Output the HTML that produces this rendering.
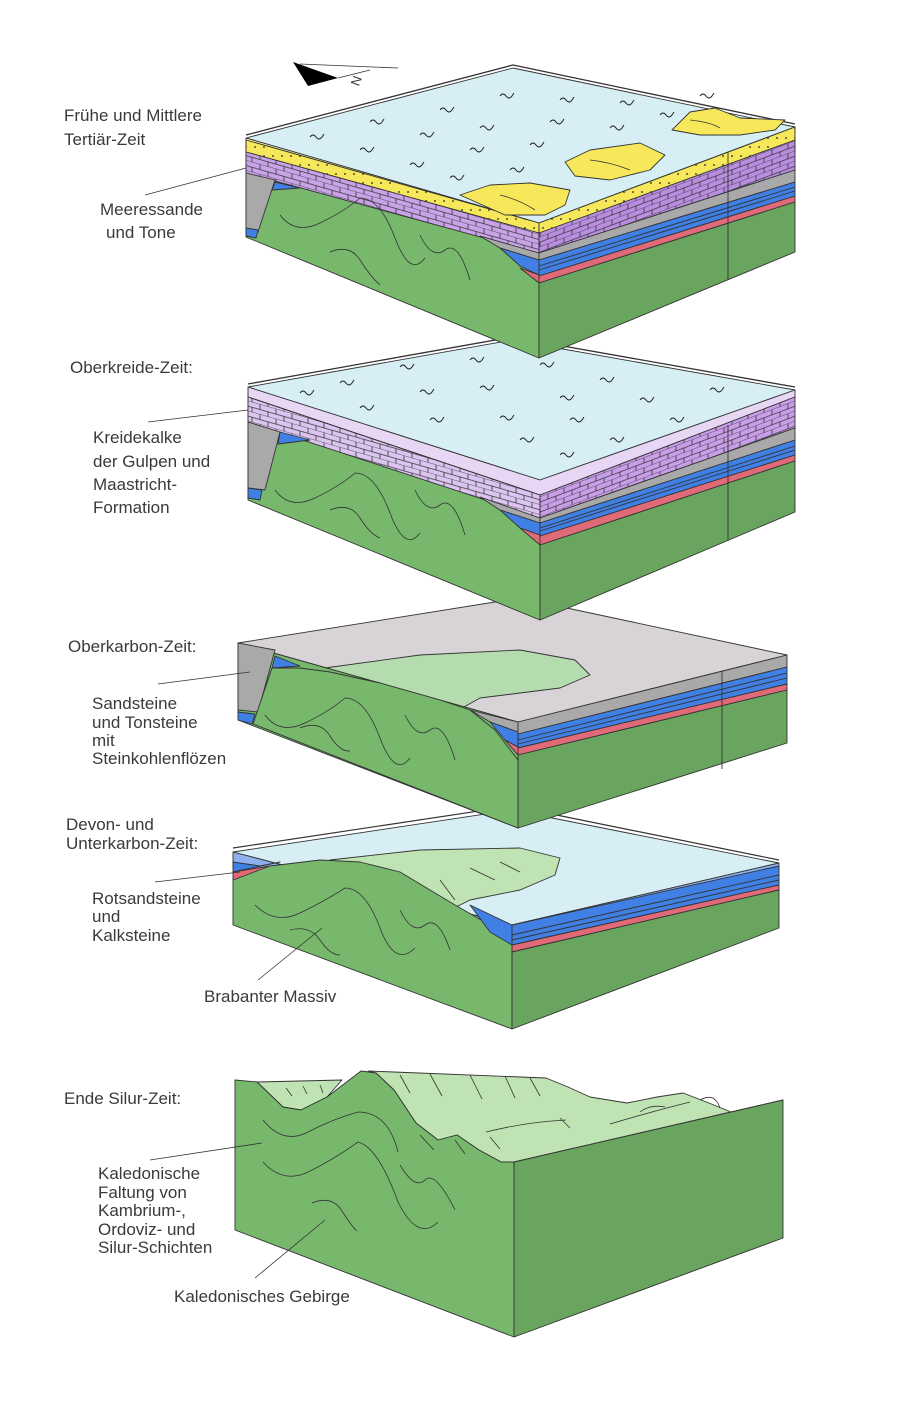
<!DOCTYPE html>
<html><head><meta charset="utf-8"><style>
html,body{margin:0;padding:0;background:#fff;}
svg{display:block}
text{font-family:"Liberation Sans",sans-serif;font-size:17px;fill:#3a3a3a;}
</style></head><body>
<svg width="900" height="1410" viewBox="0 0 900 1410" xmlns="http://www.w3.org/2000/svg">
<defs>
<pattern id="brL" width="16" height="10" patternUnits="userSpaceOnUse" patternTransform="skewY(16)">
<rect width="16" height="10" fill="#c9a3e8"/><path d="M0 5H16M0 10H16M4 0V5M12 5V10" stroke="#333" stroke-width="0.8" fill="none"/></pattern>
<pattern id="brR" width="16" height="10" patternUnits="userSpaceOnUse" patternTransform="skewY(-20.6)">
<rect width="16" height="10" fill="#b98ee0"/><path d="M0 5H16M0 10H16M4 0V5M12 5V10" stroke="#333" stroke-width="0.8" fill="none"/></pattern>
<pattern id="brL2" width="16" height="10" patternUnits="userSpaceOnUse" patternTransform="skewY(16)">
<rect width="16" height="10" fill="#dcc4f0"/><path d="M0 5H16M0 10H16M4 0V5M12 5V10" stroke="#333" stroke-width="0.8" fill="none"/></pattern>
<pattern id="brR2" width="16" height="10" patternUnits="userSpaceOnUse" patternTransform="skewY(-20.6)">
<rect width="16" height="10" fill="#c99ee8"/><path d="M0 5H16M0 10H16M4 0V5M12 5V10" stroke="#333" stroke-width="0.8" fill="none"/></pattern>
<pattern id="dots" width="9" height="9" patternUnits="userSpaceOnUse">
<rect width="9" height="9" fill="#f6e85a"/><circle cx="3" cy="3" r="0.9" fill="#222"/></pattern>
<g id="wv"><path d="M0 0q3 -4 6 0t6 0l2 -3" stroke="#222" stroke-width="1" fill="none"/></g>
</defs>
<g stroke="#333" stroke-width="0.9" stroke-linejoin="round">

<!-- ===== Block 5: Silur ===== -->
<polygon fill="#bfe3b2" points="368,1071 546,1078 568,1087 590,1097 627,1103 657,1097 683,1093 709,1103 731,1112 783,1100 514,1162 501,1162 479,1150 457,1135 438,1140 416,1123 394,1090 376,1073"/>
<polygon fill="#bfe3b2" points="257,1082 342,1080 327,1097 301,1110 283,1107"/>
<polygon fill="#77b86d" points="235,1080 257,1082 283,1107 301,1110 327,1097 361,1071 376,1073 394,1090 416,1123 438,1140 457,1135 479,1150 501,1162 514,1162 514,1337 235,1230"/>
<polygon fill="#69a55f" points="514,1162 783,1100 783,1238 514,1337"/>
<g fill="none" stroke-width="0.8">
<path d="M263,1120 q20,25 45,12 t50,-20 q30,0 40,40"/>
<path d="M263,1162 q20,22 45,10 t50,-30 q20,5 40,60 q20,40 40,20"/>
<path d="M312,1203 q20,-8 30,8 t15,20"/>
<path d="M400,1165 q15,25 25,15 t30,30"/>
<path d="M286,1088l6,8M303,1086l4,8M320,1085l3,8M400,1075l10,18M430,1074l12,22M470,1075l12,24M505,1076l10,22M530,1078l10,18M420,1135l14,15M455,1140l10,14M490,1137l10,12M560,1118l10,10M640,1112q10,-8 25,-5M700,1100q15,-8 20,8"/>
<path d="M486,1132 q40,-10 80,-12M610,1124q40,-12 80,-22"/>
</g>

<!-- ===== Block 4: Devon ===== -->
<polygon fill="#d6eef4" points="233,852 512,810 779,863 512,925"/>
<polygon fill="#8fb0ee" points="233,852 512,925 779,863 779,870 512,932 233,868"/>
<polygon fill="#bfe3b2" points="330,860 420,850 520,848 560,858 555,875 520,890 470,900 450,910"/>
<polygon fill="#77b86d" points="233,878 270,866 320,860 360,862 400,872 430,890 455,905 490,925 512,945 512,1029 233,925"/>
<polygon fill="#4080e4" points="233,862 260,866 280,862 233,872"/>
<polygon fill="#e06a78" points="233,872 270,866 233,880"/>
<polygon fill="#4080e4" points="470,905 512,925 512,945 490,932"/>
<polygon fill="#4080e4" points="512,925 779,866 779,885 512,945"/>
<polygon fill="#e06a78" points="512,945 779,885 779,890 512,952"/>
<polygon fill="#69a55f" points="512,952 779,890 779,928 512,1029"/>
<path d="M512,935 L779,875 M512,940 L779,880" fill="none"/>
<path d="M233,848 L512,806 L779,860" fill="none" stroke-width="1.2"/>
<g fill="none" stroke-width="0.8">
<path d="M255,905 q20,20 45,8 t45,-25 q20,0 35,40 q15,40 35,20"/>
<path d="M290,930 q20,-5 30,10 t20,15"/>
<path d="M400,910 q12,25 25,15 t25,25"/>
<path d="M440,880 l15,20M470,868l25,12M500,862l20,10"/>
</g>

<!-- ===== Block 3: Oberkarbon ===== -->
<polygon fill="#d8d3d6" points="238,643 520,598 787,655 518,722"/>
<polygon fill="#a6e09c" fill-opacity="0.7" points="325,668 420,655 520,650 575,660 590,675 560,688 480,698 455,712 420,705"/>
<polygon fill="#77b86d" points="238,643 518,722 518,828 238,720"/>
<polygon fill="#a9a9a9" points="238,643 275,650 258,712 238,710"/>
<polygon fill="#4080e4" points="275,656 300,666 272,668"/>
<polygon fill="#4080e4" points="238,712 255,714 252,724 238,720"/>
<polygon fill="#77b86d" points="272,668 300,668 330,672 380,683 440,700 470,710 495,730 518,760 518,828 253,724"/>
<polygon fill="#a9a9a9" points="470,710 518,722 518,732 490,722"/>
<polygon fill="#4080e4" points="490,722 518,732 518,747 505,740"/>
<polygon fill="#e06a78" points="505,740 518,747 518,755"/>
<polygon fill="#a9a9a9" points="518,722 787,655 787,667 518,734"/>
<polygon fill="#4080e4" points="518,734 787,667 787,684 518,748"/>
<polygon fill="#e06a78" points="518,748 787,684 787,690 518,755"/>
<polygon fill="#69a55f" points="518,755 787,690 787,743 518,828"/>
<path d="M518,740 L787,673 M518,744 L787,678 M722,671 L722,769" fill="none"/>
<g fill="none" stroke-width="0.8">
<path d="M265,715 q15,20 40,8 t40,-25 q20,0 35,40 q15,40 30,20"/>
<path d="M300,728 q20,-8 30,8 t20,15"/>
<path d="M405,715 q12,25 25,15 t25,30"/>
</g>

<!-- ===== Block 2: Oberkreide ===== -->
<polygon fill="#d6eef4" points="248,387 512,340 795,390 540,480"/>
<polygon fill="#e8d6f5" points="248,387 540,480 795,390 795,397 540,495 248,397"/>
<polygon fill="#77b86d" points="248,397 540,495 540,620 248,500"/>
<polygon fill="url(#brL2)" points="248,397 540,495 540,518 248,422"/>
<polygon fill="#a9a9a9" points="248,422 280,432 265,490 248,488"/>
<polygon fill="#4080e4" points="280,432 310,440 278,444"/>
<polygon fill="#4080e4" points="248,488 262,490 260,500 248,498"/>
<polygon fill="#a9a9a9" points="480,497 540,518 540,523 500,510"/>
<polygon fill="#4080e4" points="500,510 540,523 540,535 520,528"/>
<polygon fill="#e06a78" points="520,528 540,535 540,545"/>
<polygon fill="url(#brR2)" points="540,495 795,397 795,428 540,518"/>
<polygon fill="#a9a9a9" points="540,518 795,428 795,440 540,523"/>
<polygon fill="#4080e4" points="540,523 795,440 795,455 540,536"/>
<polygon fill="#e06a78" points="540,536 795,455 795,461 540,545"/>
<polygon fill="#69a55f" points="540,545 795,461 795,512 540,620"/>
<path d="M540,528 L795,446 M540,531 L795,450 M728,425 L728,540" fill="none"/>
<path d="M248,384 L512,337 L795,387" fill="none" stroke-width="1.3"/>
<g fill="none" stroke-width="0.8">
<path d="M275,490 q15,20 40,8 t40,-25 q20,0 35,40 q15,40 30,20"/>
<path d="M330,510 q20,-8 30,8 t20,20"/>
<path d="M415,490 q12,25 25,15 t25,30"/>
</g>
<g>
<use href="#wv" x="340" y="383"/><use href="#wv" x="400" y="367"/><use href="#wv" x="470" y="360"/><use href="#wv" x="540" y="365"/><use href="#wv" x="600" y="380"/>
<use href="#wv" x="360" y="408"/><use href="#wv" x="420" y="392"/><use href="#wv" x="480" y="388"/><use href="#wv" x="560" y="398"/><use href="#wv" x="640" y="400"/>
<use href="#wv" x="430" y="420"/><use href="#wv" x="500" y="418"/><use href="#wv" x="570" y="420"/><use href="#wv" x="670" y="420"/><use href="#wv" x="520" y="440"/><use href="#wv" x="610" y="440"/><use href="#wv" x="560" y="455"/><use href="#wv" x="300" y="393"/><use href="#wv" x="710" y="390"/>
</g>

<!-- ===== Block 1: Tertiär ===== -->
<polygon fill="#d6eef4" points="246,138 513,68 795,127 539,223"/>
<polygon fill="#f4ef9c" points="246,138 539,223 795,127 795,133 539,233 246,142"/>
<polygon fill="#77b86d" points="246,142 539,233 539,358 246,237"/>
<polygon fill="url(#dots)" points="246,140 539,223 539,233 246,152"/>
<polygon fill="url(#brL)" points="246,152 539,233 539,253 246,173"/>
<polygon fill="#a9a9a9" points="246,173 275,180 258,232 246,230"/>
<polygon fill="#4080e4" points="275,182 300,188 272,190"/>
<polygon fill="#4080e4" points="246,228 258,230 256,238 246,236"/>
<polygon fill="#a9a9a9" points="480,236 539,253 539,260 500,248"/>
<polygon fill="#4080e4" points="500,248 539,260 539,275 520,266"/>
<polygon fill="#e06a78" points="520,268 539,275 539,283"/>
<polygon fill="url(#dots)" points="539,223 795,127 795,153 539,233"/>
<polygon fill="url(#brR)" points="539,233 795,140 795,170 539,253"/>
<polygon fill="#a9a9a9" points="539,253 795,170 795,182 539,260"/>
<polygon fill="#4080e4" points="539,260 795,182 795,196 539,276"/>
<polygon fill="#e06a78" points="539,276 795,196 795,202 539,283"/>
<polygon fill="#69a55f" points="539,283 795,202 795,252 539,358"/>
<path d="M539,266 L795,187 M539,270 L795,191 M728,152 L728,280" fill="none"/>
<path d="M246,135 L513,65 L795,124" fill="none" stroke-width="1.3"/>
<polygon fill="#f6e85a" points="460,195 490,185 530,183 570,190 565,205 545,215 520,215 505,215"/>
<polygon fill="#f6e85a" points="565,162 590,150 640,143 665,155 650,170 610,180 575,176"/>
<polygon fill="#f6e85a" points="672,130 690,112 715,108 740,118 785,120 775,130 740,135 700,135"/>
<g fill="none" stroke-width="0.8">
<path d="M280,215 q15,20 40,8 t40,-25 q20,0 35,40 q15,40 30,20"/>
<path d="M330,252 q20,-8 30,8 t20,25"/>
<path d="M420,235 q12,25 25,15 t25,30"/>
<path d="M500,195 q20,5 35,15M590,160q20,2 40,10M690,120q20,2 30,8"/>
</g>
<g>
<use href="#wv" x="310" y="137"/><use href="#wv" x="370" y="122"/><use href="#wv" x="440" y="110"/><use href="#wv" x="500" y="96"/><use href="#wv" x="560" y="100"/><use href="#wv" x="620" y="103"/>
<use href="#wv" x="360" y="150"/><use href="#wv" x="420" y="135"/><use href="#wv" x="480" y="128"/><use href="#wv" x="550" y="122"/><use href="#wv" x="610" y="128"/><use href="#wv" x="660" y="115"/>
<use href="#wv" x="410" y="165"/><use href="#wv" x="470" y="150"/><use href="#wv" x="530" y="145"/><use href="#wv" x="450" y="178"/><use href="#wv" x="510" y="170"/><use href="#wv" x="700" y="96"/>
</g>
</g>

<polygon points="293,62 338,78 308,86" fill="#000"/>
<path d="M300,64 L398,68 M338,78 L370,70" stroke="#333" stroke-width="0.8" fill="none"/>
<text x="350" y="86" style="font-size:13px" transform="rotate(-70 355 80)">N</text>

<g stroke="#333" stroke-width="0.8">
<line x1="145" y1="195" x2="246" y2="168"/>
<line x1="148" y1="422" x2="248" y2="410"/>
<line x1="158" y1="684" x2="250" y2="672"/>
<line x1="155" y1="882" x2="240" y2="872"/>
<line x1="258" y1="980" x2="322" y2="928"/>
<line x1="150" y1="1160" x2="262" y2="1143"/>
<line x1="255" y1="1278" x2="325" y2="1220"/>
</g>

<text x="64" y="121">Frühe und Mittlere</text>
<text x="64" y="145">Tertiär-Zeit</text>
<text x="100" y="215">Meeressande</text>
<text x="106" y="238">und Tone</text>
<text x="70" y="373">Oberkreide-Zeit:</text>
<text x="93" y="443">Kreidekalke</text>
<text x="93" y="467">der Gulpen und</text>
<text x="93" y="490">Maastricht-</text>
<text x="93" y="513">Formation</text>
<text x="68" y="652">Oberkarbon-Zeit:</text>
<text x="92" y="709">Sandsteine</text>
<text x="92" y="728">und Tonsteine</text>
<text x="92" y="746">mit</text>
<text x="92" y="764">Steinkohlenflözen</text>
<text x="66" y="830">Devon- und</text>
<text x="66" y="849">Unterkarbon-Zeit:</text>
<text x="92" y="904">Rotsandsteine</text>
<text x="92" y="922">und</text>
<text x="92" y="941">Kalksteine</text>
<text x="204" y="1002">Brabanter Massiv</text>
<text x="64" y="1104">Ende Silur-Zeit:</text>
<text x="98" y="1179">Kaledonische</text>
<text x="98" y="1198">Faltung von</text>
<text x="98" y="1216">Kambrium-,</text>
<text x="98" y="1235">Ordoviz- und</text>
<text x="98" y="1253">Silur-Schichten</text>
<text x="174" y="1302">Kaledonisches Gebirge</text>
</svg>
</body></html>
